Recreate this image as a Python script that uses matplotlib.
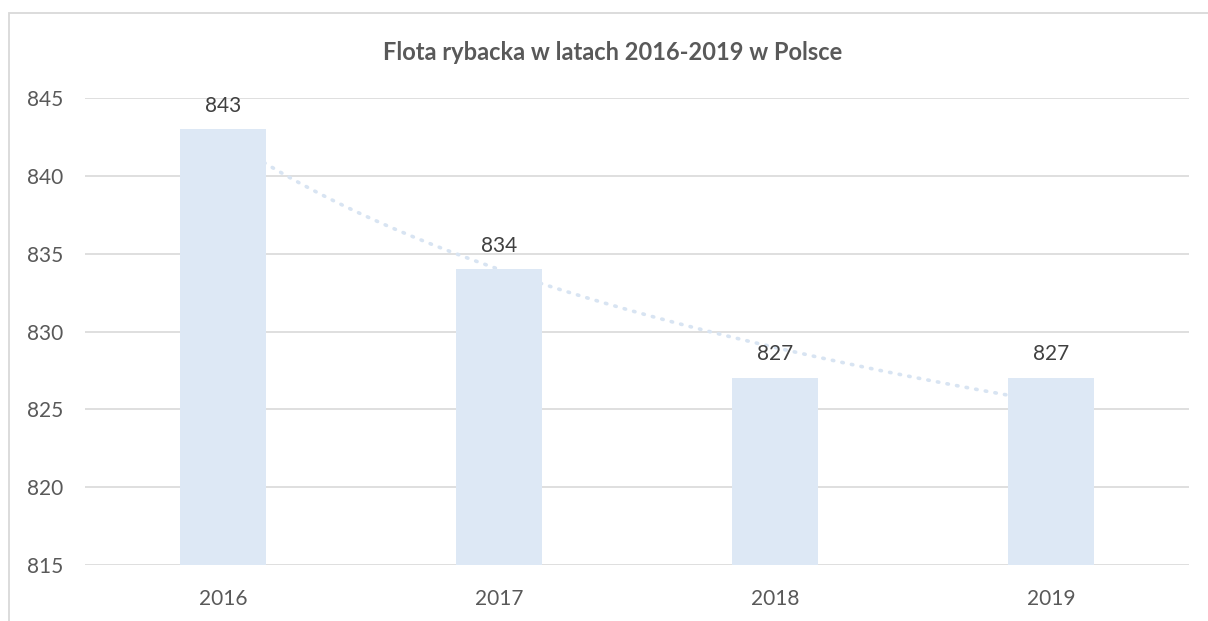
import matplotlib.pyplot as plt
import numpy as np
from matplotlib.patches import Rectangle

years = ["2016", "2017", "2018", "2019"]
fleet = [843, 834, 827, 827]
yticks = [815, 820, 825, 830, 835, 840, 845]

TEXT = "#595959"
GRID = "#d9d9d9"
BAR = "#dde8f5"

plt.rcParams["font.family"] = ["Lato", "DejaVu Sans"]

fig = plt.figure(figsize=(12.08, 6.21), dpi=100)
W, H = 1208, 621

# chart border (cut at right / bottom like the screenshot)
fig.patches.append(Rectangle((9 / W, -0.05), 1.2, 1 - 13 / H + 0.05,
                             transform=fig.transFigure, fill=False,
                             edgecolor=GRID, linewidth=1.3))

ax = fig.add_axes([85 / W, 1 - 565 / H, (1189 - 85) / W, (565 - 98.3) / H])
x = np.arange(len(years))
ax.bar(x, fleet, width=0.31, color=BAR, zorder=2)
ax.set_xlim(-0.5, len(years) - 0.5)
ax.set_ylim(815, 845)
ax.set_yticks(yticks)
ax.yaxis.grid(True, color=GRID, linewidth=1.2, zorder=0)
ax.set_axisbelow(True)
for s in ax.spines.values():
    s.set_visible(False)
ax.tick_params(length=0, labelsize=15, labelcolor=TEXT)
ax.tick_params(axis="y", pad=16)
ax.tick_params(axis="x", pad=17)
ax.set_xticks(x)
ax.set_xticklabels(years)

# logarithmic trendline (Excel style), sits behind the bars
b, a = np.polyfit(np.log(x + 1), fleet, 1)
xs = np.linspace(0, len(years) - 1, 200)
ax.plot(xs, a + b * np.log(xs + 1), color="#d8e4f2", linewidth=2.6,
        linestyle=(0, (0.4, 2.3)), dash_capstyle="round", zorder=1.5)

for xi, v in zip(x, fleet):
    ax.annotate(str(v), (xi, v), xytext=(0, 10), textcoords="offset points",
                ha="center", va="bottom", fontsize=15, color="#404040",
                annotation_clip=False)

fig.text(613 / W, 1 - 53 / H, "Flota rybacka w latach 2016-2019 w Polsce",
         ha="center", va="center", fontsize=17, fontweight="bold", color=TEXT)

fig.savefig("out.png", dpi=100)
